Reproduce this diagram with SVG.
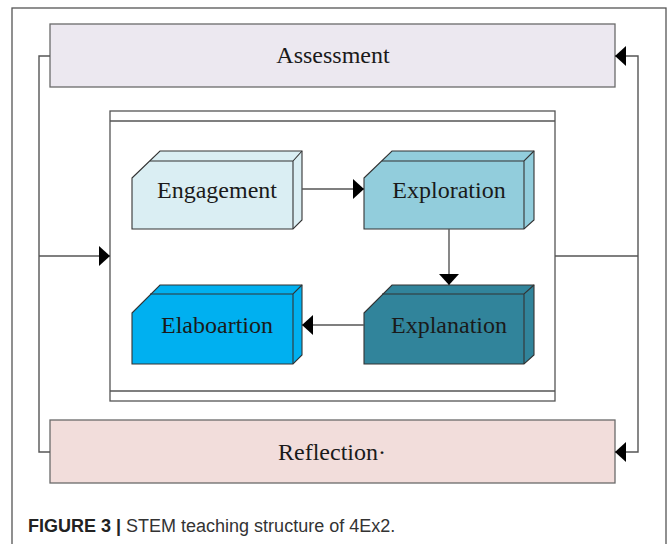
<svg xmlns="http://www.w3.org/2000/svg" width="668" height="544" viewBox="0 0 668 544">
  <defs>
    <style>
      .frame { fill: none; stroke: #555; stroke-width: 1.3; }
      .bar { stroke: #6a6a6a; stroke-width: 1.3; }
      .box { stroke: #333; stroke-width: 1.1; stroke-linejoin: miter; }
      .edge { fill: none; stroke: #333; stroke-width: 1.1; }
      .wire { fill: none; stroke: #555; stroke-width: 1.4; }
      .label { font-family: "Liberation Serif", "Times New Roman", serif; font-size: 24px; fill: #1a1a1a; text-anchor: middle; }
      .cap { font-family: "Liberation Sans", Arial, sans-serif; font-size: 18px; fill: #333; }
    </style>
    <marker id="head" markerUnits="userSpaceOnUse" markerWidth="12" markerHeight="20" refX="11" refY="10" orient="auto">
      <path d="M0,0 L11,10 L0,20 Z" fill="#000"/>
    </marker>
  </defs>

  <rect width="668" height="544" fill="#fff"/>

  <!-- outer figure frame -->
  <rect class="frame" x="12" y="8" width="654" height="600"/>

  <!-- feedback bars -->
  <g id="assessment">
    <rect class="bar" x="50" y="24" width="565" height="63" fill="#ECE8F0"/>
    <text class="label" x="333" y="63">Assessment</text>
  </g>
  <g id="reflection">
    <rect class="bar" x="50" y="420" width="565" height="63" fill="#F2DDDB"/>
    <text class="label" x="332" y="460">Reflection·</text>
  </g>

  <!-- inner container -->
  <g id="cycle">
    <rect class="frame" x="110" y="111" width="445" height="290" fill="#fff"/>
    <line class="frame" x1="110" y1="121" x2="555" y2="121"/>
    <line class="frame" x1="110" y1="391" x2="555" y2="391"/>
  </g>

  <!-- 3D stage boxes -->
  <g id="engagement">
    <path class="box" d="M132,178 L160,151 L302,151 L302,220 L293,229 L132,229 Z" fill="#DAEEF3"/>
    <path class="edge" d="M150,161 L293,161 L302,151 M293,161 L293,229"/>
    <text class="label" x="217" y="198">Engagement</text>
  </g>
  <g id="exploration">
    <path class="box" d="M364,178 L392,151 L534,151 L534,220 L524,229 L364,229 Z" fill="#92CDDC"/>
    <path class="edge" d="M382,161 L524,161 L534,151 M524,161 L524,229"/>
    <text class="label" x="449" y="198">Exploration</text>
  </g>
  <g id="explanation">
    <path class="box" d="M364,313 L392,285 L534,285 L534,355 L524,364 L364,364 Z" fill="#31849B"/>
    <path class="edge" d="M382,294 L524,294 L534,285 M524,294 L524,364"/>
    <text class="label" x="449" y="333">Explanation</text>
  </g>
  <g id="elaboartion">
    <path class="box" d="M132,313 L160,285 L302,285 L302,355 L293,364 L132,364 Z" fill="#00B0F0"/>
    <path class="edge" d="M150,294 L293,294 L302,285 M293,294 L293,364"/>
    <text class="label" x="217" y="333">Elaboartion</text>
  </g>

  <!-- connectors -->
  <g id="connectors">
    <path class="wire" d="M302,189 H364" marker-end="url(#head)"/>
    <path class="wire" d="M449,229 V285" marker-end="url(#head)"/>
    <path class="wire" d="M364,325 H302" marker-end="url(#head)"/>
    <path class="wire" d="M50,56 H39 V452 H50"/>
    <path class="wire" d="M39,256 H110" marker-end="url(#head)"/>
    <path class="wire" d="M555,256 H638"/>
    <path class="wire" d="M638,256 V56 H615" marker-end="url(#head)"/>
    <path class="wire" d="M638,256 V452 H615" marker-end="url(#head)"/>
  </g>

  <!-- caption -->
  <text class="cap" x="28" y="532"><tspan font-weight="bold" fill="#222">FIGURE 3 |</tspan> STEM teaching structure of 4Ex2.</text>
</svg>
